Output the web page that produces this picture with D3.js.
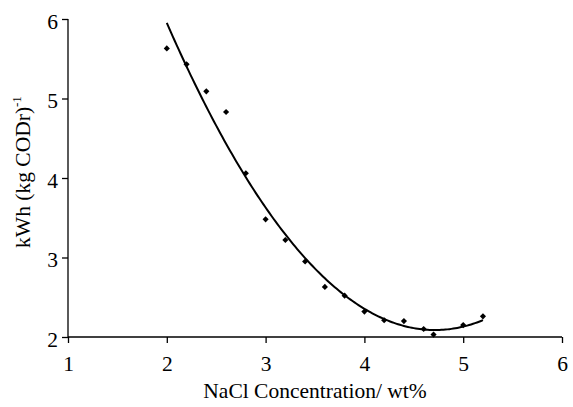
<!DOCTYPE html>
<html>
<head>
<meta charset="utf-8">
<script src="https://cdn.jsdelivr.net/npm/d3@7"></script>
<style>
  body { margin: 0; background: #fff; }
  svg { display: block; font-family: 'Liberation Serif', 'Times New Roman', serif; }
</style>
</head>
<body>
<div id="chart"></div>
<script>
  // NaCl concentration (wt%) and energy consumption kWh (kg CODr)^-1
  const nacl = [2.0, 2.2, 2.4, 2.6, 2.8, 3.0, 3.2, 3.4, 3.6, 3.8, 4.0, 4.2, 4.4, 4.6, 4.7, 5.0, 5.2];
  const energy = [5.63, 5.43, 5.09, 4.83, 4.06, 3.48, 3.22, 2.95, 2.63, 2.52, 2.32, 2.21, 2.20, 2.10, 2.03, 2.15, 2.26];
  const xTicks = [1, 2, 3, 4, 5, 6];
  const yTicks = [2, 3, 4, 5, 6];

  const WIDTH = 573;
  const HEIGHT = 407;
  const margin = { top: 19, right: 11, bottom: 70, left: 68 };
  const FONT = 21.5;

  const svg = d3.select('#chart')
    .append('svg')
    .attr('width', WIDTH)
    .attr('height', HEIGHT);

  const x = d3.scaleLinear().domain([1, 6]).range([margin.left, WIDTH - margin.right]);
  const y = d3.scaleLinear().domain([2, 6]).range([HEIGHT - margin.bottom, margin.top]);

  // second order polynomial trendline (least squares), like the spreadsheet one
  function quadFit(xs, ys) {
    let s = [0, 0, 0, 0, 0], t = [0, 0, 0];
    xs.forEach((xv, i) => {
      for (let k = 0; k < 5; k++) s[k] += Math.pow(xv, k);
      for (let k = 0; k < 3; k++) t[k] += ys[i] * Math.pow(xv, k);
    });
    const m = [
      [s[0], s[1], s[2], t[0]],
      [s[1], s[2], s[3], t[1]],
      [s[2], s[3], s[4], t[2]],
    ];
    for (let i = 0; i < 3; i++) {
      for (let j = i + 1; j < 3; j++) {
        const f = m[j][i] / m[i][i];
        for (let k = i; k < 4; k++) m[j][k] -= f * m[i][k];
      }
    }
    const c = [0, 0, 0];
    for (let i = 2; i >= 0; i--) {
      let v = m[i][3];
      for (let k = i + 1; k < 3; k++) v -= m[i][k] * c[k];
      c[i] = v / m[i][i];
    }
    return (xv) => c[0] + c[1] * xv + c[2] * xv * xv;
  }

  const fit = quadFit(nacl, energy);
  const fitPts = d3.range(d3.min(nacl), d3.max(nacl) + 0.001, 0.02).map((v) => [v, fit(v)]);

  // axes
  const xAxis = svg.append('g')
    .attr('transform', `translate(0,${y(2)})`)
    .call(d3.axisBottom(x).tickValues(xTicks).tickSize(6).tickPadding(13).tickFormat(d3.format('d')));
  const yAxis = svg.append('g')
    .attr('transform', `translate(${x(1)},0)`)
    .call(d3.axisLeft(y).tickValues(yTicks).tickSize(6).tickPadding(4).tickFormat(d3.format('d')));

  [xAxis, yAxis].forEach((g) => {
    g.select('.domain').attr('stroke', '#000').attr('stroke-width', 1.3);
    g.selectAll('.tick line').attr('stroke', '#000').attr('stroke-width', 1.3);
    g.selectAll('.tick text')
      .attr('fill', '#000')
      .attr('font-size', FONT)
      .attr('font-family', "'Liberation Serif', serif");
  });
  yAxis.selectAll('.tick text').attr('dy', '0.42em');
  xAxis.select('.domain').attr('d', `M${x(1)},0H${x(6)}`);
  yAxis.select('.domain').attr('d', `M0,${y(2)}V${y(6)}`);

  // trendline
  svg.append('path')
    .datum(fitPts)
    .attr('fill', 'none')
    .attr('stroke', '#000')
    .attr('stroke-width', 2)
    .attr('d', d3.line().x((d) => x(d[0])).y((d) => y(d[1])));

  // data markers
  const diamond = d3.symbol().type(d3.symbolDiamond2).size(24);
  svg.append('g')
    .selectAll('path')
    .data(nacl.map((v, i) => [v, energy[i]]))
    .enter()
    .append('path')
    .attr('d', diamond)
    .attr('transform', (d) => `translate(${x(d[0])},${y(d[1])})`)
    .attr('fill', '#000');

  // axis titles
  svg.append('text')
    .attr('x', 315)
    .attr('y', 398)
    .attr('text-anchor', 'middle')
    .attr('font-size', FONT)
    .attr('fill', '#000')
    .text('NaCl Concentration/ wt%');

  const yTitle = svg.append('text')
    .attr('transform', 'translate(30,172) rotate(-90)')
    .attr('text-anchor', 'middle')
    .attr('font-size', FONT)
    .attr('fill', '#000');
  yTitle.append('tspan').text('kWh (kg CODr)');
  yTitle.append('tspan').attr('font-size', 13).attr('dy', -9).text('-1');
</script>
</body>
</html>
